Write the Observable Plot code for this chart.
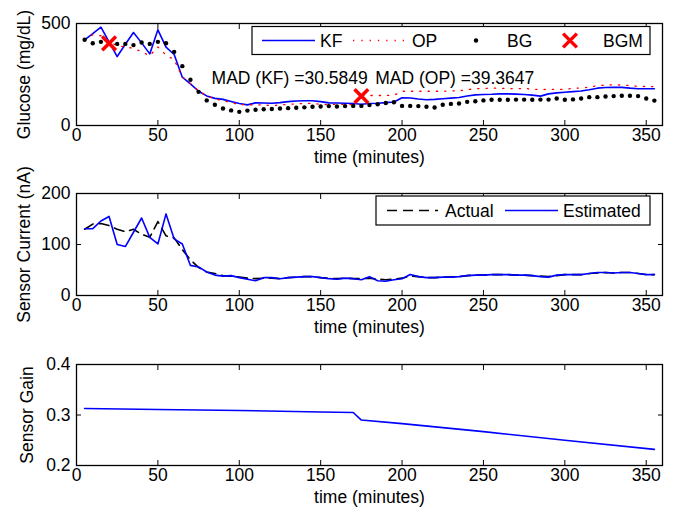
<!DOCTYPE html>
<html><head><meta charset="utf-8">
<script src="https://cdn.jsdelivr.net/npm/d3@7"></script>
<script src="https://cdn.jsdelivr.net/npm/@observablehq/plot@0.6"></script>
<style>
body{margin:0;background:#fff;}
#chart{width:673px;height:515px;font-family:"Liberation Sans",Arial,sans-serif;}
svg{display:block;}
</style></head><body><div id="chart"></div>
<script>
// ---- data ----
const time = [5,10,15,20,25,30,35,40,45,50,55,60,65,70,75,80,85,90,95,100,105,110,115,120,125,130,135,140,145,150,155,160,165,170,175,180,185,190,195,200,205,210,215,220,225,230,235,240,245,250,255,260,265,270,275,280,285,290,295,300,305,310,315,320,325,330,335,340,345,350,355];
const kf = [420,450,482,410,338,398,456,405,351,469,384,348,237,204,168,145,133,128,118,108,101,111,110,109,112,117,120,121,121,117,111,110,109,108,104,108,109,112,115,136,135,130,126,128,131,134,137,145,150,152,153,155,155,154,152,149,144,155,160,163,166,169,175,183,186,187,187,183,180,180,180];
const op = [420,445,440,410,392,385,378,362,342,385,345,322,238,205,170,145,130,122,112,104,100,102,100,98,100,104,106,108,108,104,102,104,103,102,146,147,147,147,148,168,168,168,168,168,168,170,170,176,180,182,183,183,181,180,182,178,176,177,177,177,182,184,188,196,198,200,198,196,192,191,191];
const bg = [420,403,410,400,400,400,394,407,400,410,403,361,291,224,165,123,102,83,74,67,73,77,80,81,83,85,87,89,92,93,95,93,95,96,96,100,104,110,114,96,96,95,92,88,102,106,108,116,119,123,126,126,126,127,127,126,127,127,132,126,128,132,139,139,142,144,146,146,144,132,122];
const bgmTime = [20, 175];
const bgm = [403, 144];
const madX = [83, 183.5];
const madY = [230, 230];
const madText = ["MAD (KF) =30.5849", "MAD (OP) =39.3647"];

const actual = [130,140,141,137,130,125,130,120,114,145,117,113,90,70,55,46,43,39,38,36,34,33,34,34,33,35,36,37,37,35,34,33,34,33,33,34,32,31,32,34,38,37,35,35,36,36,37,39,40,40,41,41,41,40,40,39,38,37,39,41,41,41,43,44,45,44,45,45,43,41,41];
const estimated = [131,131,146,155,100,96,124,152,114,101,160,111,101,59,56,46,40,38,39,35,32,29,35,35,33,35,36,37,37,35,33,32,34,33,31,37,29,28,31,33,41,37,35,35,36,36,37,39,40,40,41,41,41,40,40,39,37,36,40,41,41,41,43,45,45,44,45,45,43,41,41];

const gainTime = [5,50,100,150,170,175,200,250,300,355];
const gain = [0.313,0.311,0.309,0.306,0.305,0.290,0.283,0.267,0.250,0.232];

const xTicks = [0,50,100,150,200,250,300,350];
const xLabel = "time (minutes)";
const panel1Ticks = [0,500];
const panel2Ticks = [0,100,200];
const panel3Ticks = [0.2,0.3,0.4];
const legend1 = ["KF","OP","BG","BGM"];
const legend2 = ["Actual","Estimated"];
const yLabels = ["Glucose (mg/dL)","Sensor Current (nA)","Sensor Gain"];

const rows = (xs, ys) => xs.map((x,i)=>({x, y: ys[i]}));
const FONT = "Liberation Sans, Arial, sans-serif";
const FS = 17.5;

function panel({height, marginTop, marginBottom, yDomain, yTicks, yFormat, yLabel, yLabelDx, marks}) {
  return Plot.plot({
    width: 673, height, marginLeft: 76, marginRight: 11, marginTop, marginBottom,
    style: {fontFamily: FONT, fontSize: FS + "px", color: "#000", background: "#fff", overflow: "visible"},
    x: {domain: [0, 360]},
    y: {domain: yDomain},
    marks: [
      ...marks,
      Plot.frame({stroke: "#000", strokeWidth: 1.3}),
      Plot.axisX({ticks: xTicks, tickSize: -5, tickPadding: 8, label: null, tickFormat: d => String(d), stroke: "#000", fill: "#000"}),
      Plot.axisX({anchor: "top", ticks: xTicks, tickSize: -5, label: null, tickFormat: () => "", stroke: "#000"}),
      Plot.axisY({ticks: yTicks, tickSize: -5, tickPadding: 11, label: null, tickFormat: yFormat, stroke: "#000", fill: "#000"}),
      Plot.axisY({anchor: "right", ticks: yTicks, tickSize: -5, label: null, tickFormat: () => "", stroke: "#000"}),
      Plot.text([xLabel], {frameAnchor: "bottom", dy: 32, lineAnchor: "middle", textAnchor: "middle", fill: "#000"}),
      Plot.text([yLabel], {frameAnchor: "left", rotate: -90, dx: yLabelDx, lineAnchor: "middle", textAnchor: "middle", fill: "#000"})
    ]
  });
}

const p1 = panel({
  height: 170, marginTop: 23, marginBottom: 45, yDomain: [0, 500], yTicks: panel1Ticks,
  yFormat: d => String(d), yLabel: yLabels[0], yLabelDx: -52,
  marks: [
    Plot.line(rows(time, kf), {x: "x", y: "y", stroke: "#0000ff", strokeWidth: 1.6}),
    Plot.line(rows(time, op), {x: "x", y: "y", stroke: "#ff0000", strokeWidth: 1.3, strokeDasharray: "1.3,7"}),
    Plot.dot(rows(time, bg), {x: "x", y: "y", r: 2.2, fill: "#000", stroke: "none"}),
    Plot.dot(rows(bgmTime, bgm), {x: "x", y: "y", symbol: "times", r: 6.3, stroke: "#ff0000", strokeWidth: 3.5}),
    Plot.text(madText, {x: (d,i) => madX[i], y: (d,i) => madY[i], text: d => d, textAnchor: "start", fill: "#000"})
  ]
});

const p2 = panel({
  height: 170, marginTop: 23, marginBottom: 45, yDomain: [0, 200], yTicks: panel2Ticks,
  yFormat: d => String(d), yLabel: yLabels[1], yLabelDx: -52,
  marks: [
    Plot.line(rows(time, actual), {x: "x", y: "y", stroke: "#000", strokeWidth: 1.6, strokeDasharray: "10,6"}),
    Plot.line(rows(time, estimated), {x: "x", y: "y", stroke: "#0000ff", strokeWidth: 1.6})
  ]
});

const p3 = panel({
  height: 175, marginTop: 24, marginBottom: 50, yDomain: [0.2, 0.4], yTicks: panel3Ticks,
  yFormat: d3.format(".1f"), yLabel: yLabels[2], yLabelDx: -49,
  marks: [
    Plot.line(rows(gainTime, gain), {x: "x", y: "y", stroke: "#0000ff", strokeWidth: 1.6})
  ]
});

const root = document.getElementById("chart");
[p1, p2, p3].forEach(p => root.appendChild(p));

// ---- legends (layout only) ----
function legendBox(svg, x0, x1, y0, y1) {
  const g = d3.select(svg).append("g").attr("font-family", FONT).attr("font-size", FS).attr("text-anchor", "start");
  g.append("rect").attr("x", x0).attr("y", y0).attr("width", x1 - x0).attr("height", y1 - y0)
    .attr("fill", "#fff").attr("stroke", "#000").attr("stroke-width", 1.2);
  return g;
}
function label(g, x, y, t) {
  g.append("text").attr("x", x).attr("y", y).attr("dy", "0.35em").attr("text-anchor", "start").attr("fill", "#000").text(t);
}
{
  const g = legendBox(p1, 252, 650, 26.5, 54.5);
  const cy = 40.5;
  g.append("line").attr("x1", 262).attr("x2", 315).attr("y1", cy).attr("y2", cy).attr("stroke", "#0000ff").attr("stroke-width", 1.6);
  label(g, 320, cy, legend1[0]);
  g.append("line").attr("x1", 353).attr("x2", 404).attr("y1", cy).attr("y2", cy).attr("stroke", "#ff0000").attr("stroke-width", 1.3).attr("stroke-dasharray", "1.3,7");
  label(g, 412, cy, legend1[1]);
  g.append("circle").attr("cx", 476).attr("cy", cy).attr("r", 2.2).attr("fill", "#000");
  label(g, 507, cy, legend1[2]);
  g.append("path").attr("d", d3.symbol(d3.symbolTimes, Math.PI * 6.3 * 6.3)()).attr("transform", `translate(570,${cy})`)
    .attr("fill", "none").attr("stroke", "#ff0000").attr("stroke-width", 3.5);
  label(g, 603, cy, legend1[3]);
}
{
  const g = legendBox(p2, 376, 650, 26, 55);
  const cy = 40.5;
  g.append("line").attr("x1", 387).attr("x2", 438).attr("y1", cy).attr("y2", cy).attr("stroke", "#000").attr("stroke-width", 1.6).attr("stroke-dasharray", "10,6");
  label(g, 445, cy, legend2[0]);
  g.append("line").attr("x1", 505).attr("x2", 558).attr("y1", cy).attr("y2", cy).attr("stroke", "#0000ff").attr("stroke-width", 1.6);
  label(g, 563, cy, legend2[1]);
}
</script></body></html>
